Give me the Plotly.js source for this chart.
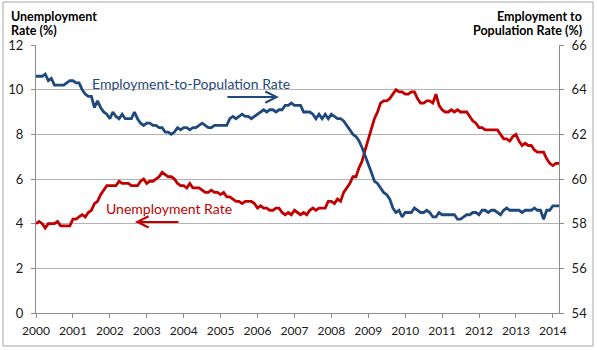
<!DOCTYPE html>
<html>
<head>
<meta charset="utf-8">
<script src="https://cdn.plot.ly/plotly-3.0.1.min.js"></script>
<style>
  html, body { margin: 0; padding: 0; background: #ffffff; }
  #chart { width: 597px; height: 350px; }
</style>
</head>
<body>
<div id="chart"></div>
<script>
// Monthly data, Jan 2000 - Mar 2014
const startYear = 2000;
const unemploymentRate = [
  4.0, 4.1, 4.0, 3.8, 4.0, 4.0, 4.0, 4.1, 3.9, 3.9, 3.9, 3.9,
  4.2, 4.2, 4.3, 4.4, 4.3, 4.5, 4.6, 4.9, 5.0, 5.3, 5.5, 5.7,
  5.7, 5.7, 5.7, 5.9, 5.8, 5.8, 5.8, 5.7, 5.7, 5.7, 5.9, 6.0,
  5.8, 5.9, 5.9, 6.0, 6.1, 6.3, 6.2, 6.1, 6.1, 6.0, 5.8, 5.7,
  5.7, 5.6, 5.8, 5.6, 5.6, 5.6, 5.5, 5.4, 5.4, 5.5, 5.4, 5.4,
  5.3, 5.4, 5.2, 5.2, 5.1, 5.0, 5.0, 4.9, 5.0, 5.0, 5.0, 4.9,
  4.7, 4.8, 4.7, 4.7, 4.6, 4.6, 4.7, 4.7, 4.5, 4.4, 4.5, 4.4,
  4.6, 4.5, 4.4, 4.5, 4.4, 4.6, 4.7, 4.6, 4.7, 4.7, 4.7, 5.0,
  5.0, 4.9, 5.1, 5.0, 5.4, 5.6, 5.8, 6.1, 6.1, 6.5, 6.8, 7.3,
  7.8, 8.3, 8.7, 9.0, 9.4, 9.5, 9.5, 9.6, 9.8, 10.0, 9.9, 9.9,
  9.8, 9.8, 9.9, 9.9, 9.6, 9.4, 9.4, 9.5, 9.5, 9.4, 9.8, 9.3,
  9.1, 9.0, 9.0, 9.1, 9.0, 9.1, 9.0, 9.0, 9.0, 8.8, 8.6, 8.5,
  8.3, 8.3, 8.2, 8.2, 8.2, 8.2, 8.2, 8.0, 7.8, 7.8, 7.7, 7.9,
  8.0, 7.7, 7.5, 7.6, 7.5, 7.5, 7.3, 7.2, 7.2, 7.2, 6.9, 6.7,
  6.6, 6.7, 6.7
];
const employmentToPopulation = [
  64.6, 64.6, 64.6, 64.7, 64.4, 64.5, 64.2, 64.2, 64.2, 64.2, 64.3, 64.4,
  64.4, 64.3, 64.3, 64.0, 63.8, 63.7, 63.7, 63.2, 63.5, 63.2, 63.0, 62.9,
  62.7, 63.0, 62.8, 62.7, 62.9, 62.7, 62.7, 62.7, 63.0, 62.7, 62.5, 62.4,
  62.5, 62.5, 62.4, 62.4, 62.3, 62.3, 62.1, 62.1, 62.0, 62.1, 62.3, 62.2,
  62.3, 62.3, 62.2, 62.3, 62.3, 62.4, 62.5, 62.4, 62.3, 62.3, 62.4, 62.4,
  62.4, 62.4, 62.4, 62.7, 62.8, 62.7, 62.8, 62.9, 62.8, 62.8, 62.7, 62.8,
  62.9, 63.0, 63.1, 63.0, 63.1, 63.1, 63.0, 63.1, 63.1, 63.3, 63.3, 63.4,
  63.3, 63.3, 63.3, 63.0, 63.0, 63.0, 62.9, 62.7, 62.9, 62.7, 62.9, 62.7,
  62.9, 62.8, 62.7, 62.7, 62.6, 62.4, 62.2, 62.0, 61.9, 61.7, 61.4, 61.0,
  60.6, 60.3, 59.9, 59.8, 59.6, 59.4, 59.3, 59.1, 58.7, 58.5, 58.6, 58.3,
  58.5, 58.5, 58.5, 58.7, 58.6, 58.5, 58.5, 58.6, 58.5, 58.3, 58.3, 58.5,
  58.4, 58.4, 58.4, 58.4, 58.4, 58.2, 58.2, 58.3, 58.4, 58.4, 58.5, 58.5,
  58.4, 58.6, 58.6, 58.5, 58.6, 58.6, 58.5, 58.4, 58.6, 58.7, 58.6, 58.6,
  58.6, 58.6, 58.5, 58.6, 58.6, 58.6, 58.7, 58.6, 58.6, 58.2, 58.6, 58.6,
  58.8, 58.8, 58.8
];
const yearLabels = ["2000","2001","2002","2003","2004","2005","2006","2007",
                    "2008","2009","2010","2011","2012","2013","2014"];
const leftTicks = [0, 2, 4, 6, 8, 10, 12];
const rightTicks = [54, 56, 58, 60, 62, 64, 66];

const xs = unemploymentRate.map((_, i) => startYear + i / 12);
const yearVals = yearLabels.map(Number);

const BLUE = '#1F497D';
const RED = '#C00000';
const FONT = 'Lato, "Open Sans", sans-serif';

const traces = [
  {
    x: xs, y: unemploymentRate, type: 'scatter', mode: 'lines',
    name: 'Unemployment Rate', yaxis: 'y',
    line: { color: RED, width: 2.8 }
  },
  {
    x: xs, y: employmentToPopulation, type: 'scatter', mode: 'lines',
    name: 'Employment-to-Population Rate', yaxis: 'y2',
    line: { color: BLUE, width: 2.8 }
  }
];

const axisGray = '#8C8C8C';
const gridGray = '#B3B3B3';

const layout = {
  width: 597, height: 350,
  margin: { l: 36, r: 38, t: 45, b: 37, pad: 0 },
  paper_bgcolor: '#ffffff', plot_bgcolor: '#ffffff',
  showlegend: false,
  font: { family: FONT, size: 12, color: '#1a1a1a' },
  xaxis: {
    range: [startYear, startYear + (unemploymentRate.length - 1) / 12],
    tickmode: 'array', tickvals: yearVals, ticktext: yearLabels,
    showgrid: false, zeroline: false,
    showline: true, linecolor: axisGray, linewidth: 1,
    ticks: 'outside', ticklen: 4, tickcolor: axisGray,
    tickfont: { family: FONT, size: 12, color: '#1a1a1a' },
    ticklabelstandoff: 3
  },
  yaxis: {
    range: [0, 12], tickmode: 'array', tickvals: leftTicks,
    showgrid: true, gridcolor: gridGray, gridwidth: 1,
    zeroline: false, showline: true, linecolor: axisGray, linewidth: 1,
    ticks: 'outside', ticklen: 4, tickcolor: axisGray,
    tickfont: { family: FONT, size: 13, color: '#1a1a1a' },
    ticklabelstandoff: 5
  },
  yaxis2: {
    range: [54, 66], tickmode: 'array', tickvals: rightTicks,
    overlaying: 'y', side: 'right',
    showgrid: false, zeroline: false,
    showline: true, linecolor: axisGray, linewidth: 1,
    ticks: 'outside', ticklen: 4, tickcolor: axisGray,
    tickfont: { family: FONT, size: 13, color: '#1a1a1a' },
    ticklabelstandoff: 5
  },
  shapes: [
    {
      type: 'rect', xref: 'paper', yref: 'paper',
      x0: (3 - 36) / 523, x1: (593 - 36) / 523,
      y0: (313 - 346) / 268, y1: (313 - 2) / 268,
      line: { color: '#A6A6A6', width: 1 }, fillcolor: 'rgba(0,0,0,0)'
    }
  ],
  annotations: [
    { xref: 'paper', yref: 'paper', x: (9 - 36) / 523, y: (313 - 16) / 268,
      xanchor: 'left', yanchor: 'middle', showarrow: false,
      text: '<b>Unemployment</b>', font: { family: FONT, size: 12.5, color: '#000' } },
    { xref: 'paper', yref: 'paper', x: (9 - 36) / 523, y: (313 - 31) / 268,
      xanchor: 'left', yanchor: 'middle', showarrow: false,
      text: '<b>Rate (%)</b>', font: { family: FONT, size: 12.5, color: '#000' } },
    { xref: 'paper', yref: 'paper', x: (584 - 36) / 523, y: (313 - 16) / 268,
      xanchor: 'right', yanchor: 'middle', showarrow: false,
      text: '<b>Employment to</b>', font: { family: FONT, size: 12.5, color: '#000' } },
    { xref: 'paper', yref: 'paper', x: (584 - 36) / 523, y: (313 - 31) / 268,
      xanchor: 'right', yanchor: 'middle', showarrow: false,
      text: '<b>Population Rate (%)</b>', font: { family: FONT, size: 12.5, color: '#000' } },
    // series labels
    { xref: 'x', yref: 'y', x: 2001.45, y: 10.28, xanchor: 'left', yanchor: 'middle',
      showarrow: false, text: 'Employment-to-Population Rate',
      font: { family: FONT, size: 14, color: BLUE } },
    { xref: 'x', yref: 'y', x: 2001.85, y: 4.70, xanchor: 'left', yanchor: 'middle',
      showarrow: false, text: 'Unemployment Rate',
      font: { family: FONT, size: 14, color: RED } },
    // arrows
    { xref: 'x', yref: 'y', x: 2006.58, y: 9.67, ax: -53, ay: 0,
      showarrow: true, arrowhead: 5, arrowsize: 1.1, arrowwidth: 2,
      arrowcolor: BLUE, text: '' },
    { xref: 'x', yref: 'y', x: 2002.68, y: 4.08, ax: 45, ay: 0,
      showarrow: true, arrowhead: 5, arrowsize: 1.1, arrowwidth: 2,
      arrowcolor: RED, text: '' }
  ]
};

Plotly.newPlot('chart', traces, layout, { displayModeBar: false, staticPlot: true });
</script>
</body>
</html>
